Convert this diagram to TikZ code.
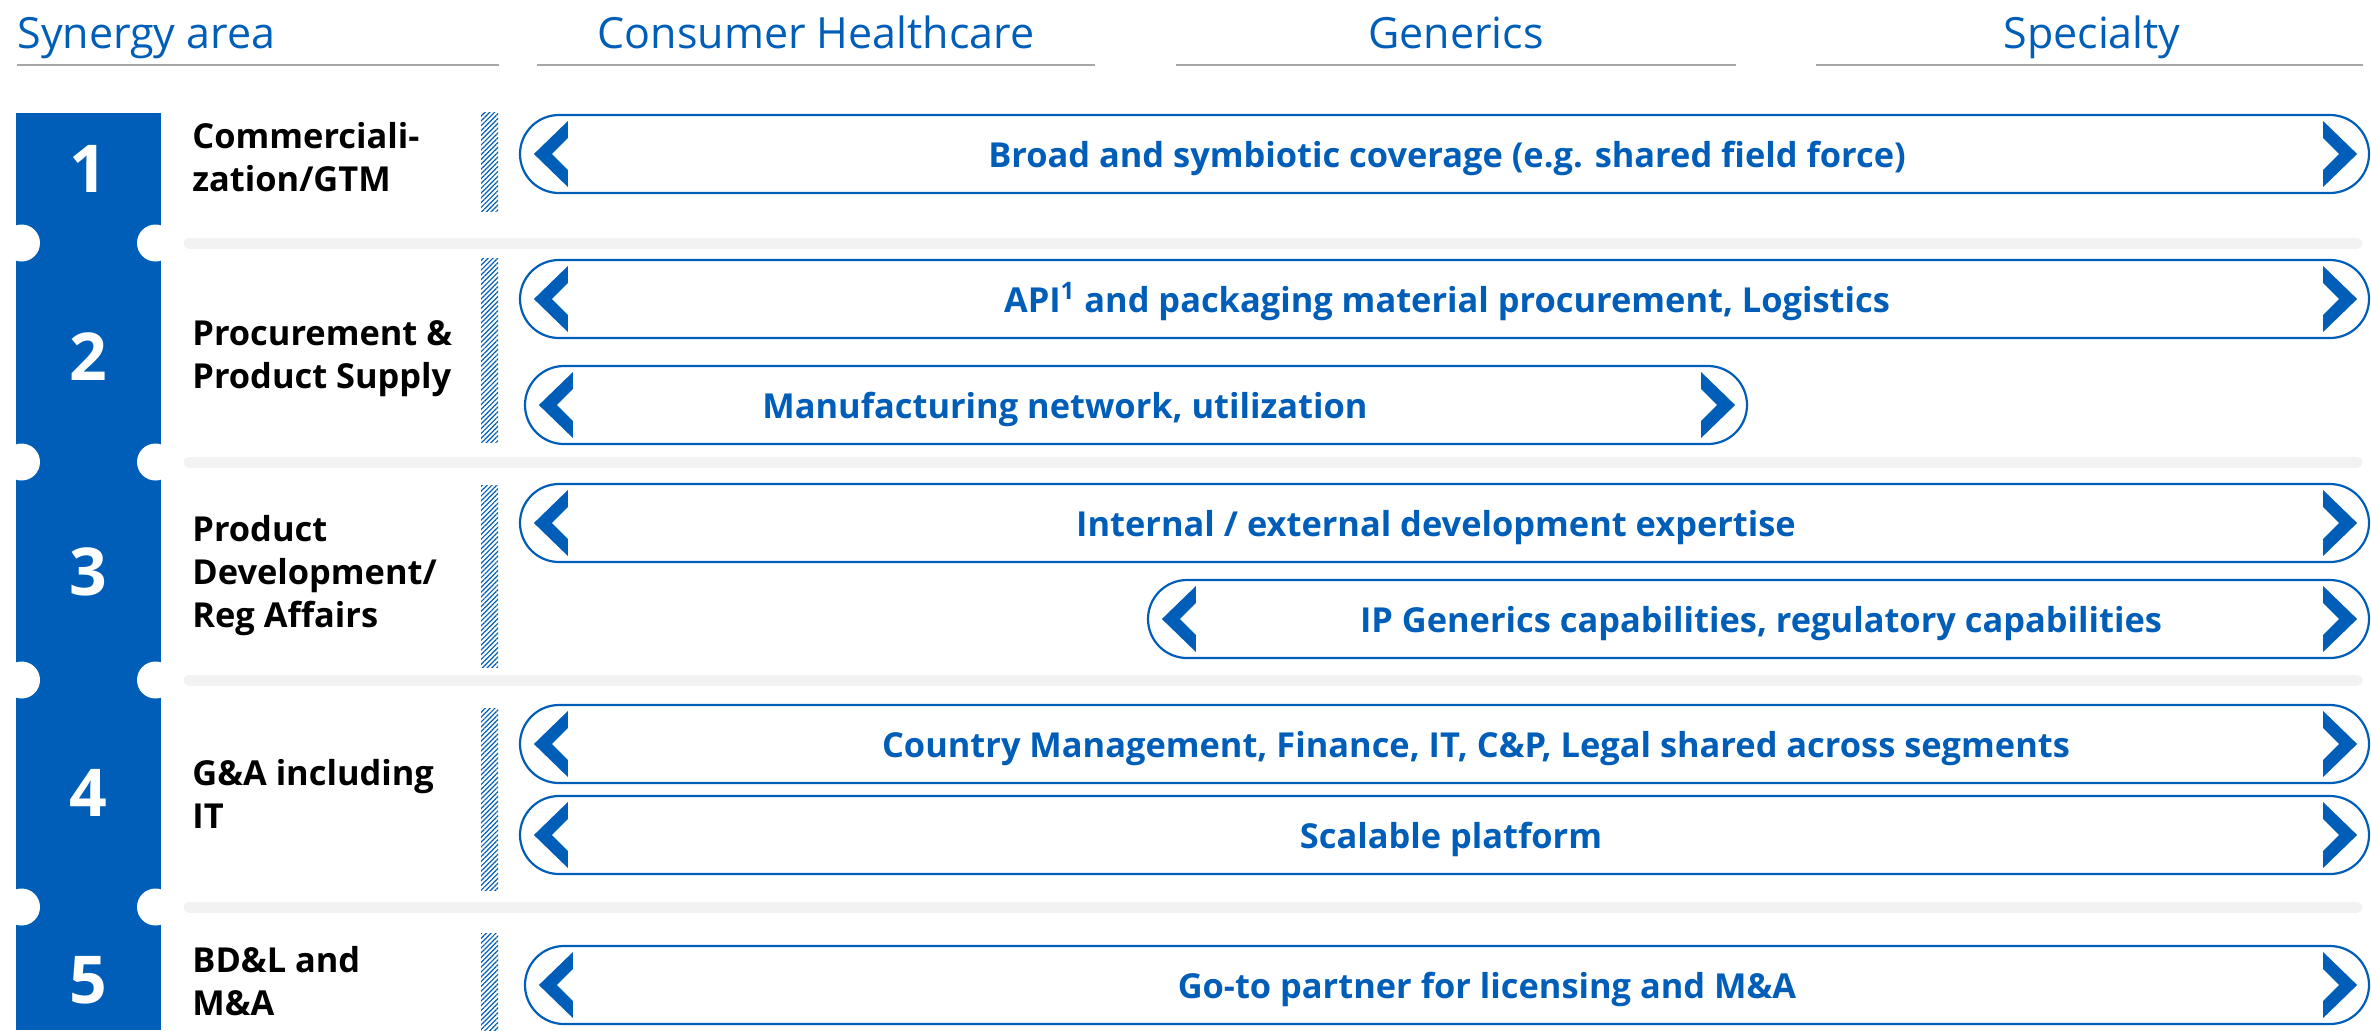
\documentclass[tikz,border=0pt]{standalone}
\usepackage{fontspec}
\setmainfont{Open Sans}
\usetikzlibrary{calc, patterns.meta}
\definecolor{stadablue}{RGB}{0, 94, 184}
\definecolor{rulegray}{RGB}{166, 166, 166}
\definecolor{sepgray}{RGB}{242, 242, 242}
% chevrons at the two ends of a pill
\newcommand{\chevleft}[1]{\fill[stadablue] ($(#1.west)+(15,0)$) -- ++(34,-33) -- ++(0,17)
  -- ++(-16,16) -- ++(16,16) -- ++(0,17) -- cycle;}
\newcommand{\chevright}[1]{\fill[stadablue] ($(#1.east)+(-13,0)$) -- ++(-34,-33) -- ++(0,17)
  -- ++(16,16) -- ++(-16,16) -- ++(0,17) -- cycle;}

\begin{document}
\begin{tikzpicture}[x=0.5pt, y=-0.5pt,
  colhead/.style={font=\fontsize{21.5}{26}\selectfont, text=stadablue,
                  inner sep=0pt, anchor=base},
  area/.style={font=\bfseries\fontsize{17.2}{21.3}\selectfont, align=left,
               anchor=base west, inner sep=0pt},
  num/.style={font=\bfseries\fontsize{33}{40}\selectfont, text=white, inner sep=0pt},
  pill/.style={draw=stadablue, line width=1.1pt, rounded corners=19.5pt,
               minimum height=39pt, inner sep=0pt},
  pilltext/.style={font=\bfseries\fontsize{17.2}{21}\selectfont, text=stadablue,
                   anchor=base, inner sep=0pt},
  hatch/.style={pattern={Lines[angle=45, distance=1.7pt, line width=0.6pt]},
                pattern color=stadablue},
  sep/.style={sepgray, line width=5.5pt, line cap=round}
]
  \useasboundingbox (0,0) rectangle (2371,1030);

  % column heads
  \node[colhead, anchor=base west] (hsyn)  at (17,48)   {Synergy area};
  \node[colhead]                   (hcons) at (816,48)  {Consumer Healthcare};
  \node[colhead]                   (hgen)  at (1456,48) {Generics};
  \node[colhead]                   (hspec) at (2092,48) {Specialty};
  \draw[rulegray, line width=1pt] (17,65)   -- (499,65);
  \draw[rulegray, line width=1pt] (537,65)  -- (1095,65);
  \draw[rulegray, line width=1pt] (1176,65) -- (1736,65);
  \draw[rulegray, line width=1pt] (1816,65) -- (2363,65);

  % numbered strip with notches
  \fill[stadablue] (16,113) rectangle (161,1030);
  \foreach \y in {243, 462, 680, 907} {
    \fill[white] (21.5,\y) circle[radius=18.5];
    \fill[white] (155.5,\y) circle[radius=18.5];
    \draw[sep] (189,\y) -- (2357,\y);
  }
  \node[num] (n1) at (88,169) {1};
  \node[num] (n2) at (88,357) {2};
  \node[num] (n3) at (88,572) {3};
  \node[num] (n4) at (88,793) {4};
  \node[num] (n5) at (88,980) {5};

  % synergy areas (base = last line)
  \node[area] (a1) at (192,191)  {Commerciali-\\zation/GTM};
  \node[area] (a2) at (192,388)  {Procurement \&\\Product Supply};
  \node[area] (a3) at (192,627)  {Product\\Development/\\Reg Affairs};
  \node[area] (a4) at (192,828)  {G\&A including\\IT};
  \node[area] (a5) at (192,1015) {BD\&L and\\M\&A};

  % hatched dividers
  \fill[hatch] (481,112) rectangle (498,211);
  \fill[hatch] (481,258) rectangle (498,442);
  \fill[hatch] (481,485) rectangle (498,667);
  \fill[hatch] (481,708) rectangle (498,890);
  \fill[hatch] (481,933) rectangle (498,1030);

  % pills
  \node[pill, minimum width=924.5pt] (p1)  at (1444.5,154) {};
  \node[pill, minimum width=924.5pt] (p2a) at (1444.5,299) {};
  \node[pill, minimum width=611pt]   (p2b) at (1136,405)   {};
  \node[pill, minimum width=924.5pt] (p3a) at (1444.5,523) {};
  \node[pill, minimum width=610.5pt] (p3b) at (1758.5,619) {};
  \node[pill, minimum width=924.5pt] (p4a) at (1444.5,744) {};
  \node[pill, minimum width=924.5pt] (p4b) at (1444.5,835) {};
  \node[pill, minimum width=922pt]   (p5)  at (1447,985)   {};

  \chevleft{p1}  \chevright{p1}
  \chevleft{p2a} \chevright{p2a}
  \chevleft{p2b} \chevright{p2b}
  \chevleft{p3a} \chevright{p3a}
  \chevleft{p3b} \chevright{p3b}
  \chevleft{p4a} \chevright{p4a}
  \chevleft{p4b} \chevright{p4b}
  \chevleft{p5}  \chevright{p5}

  \node[pilltext] (t1)  at (1447,167) {Broad and symbiotic coverage (e.g. shared field force)};
  \node[pilltext] (t2a) at (1447,312) {API\textsuperscript{1} and packaging material procurement, Logistics};
  \node[pilltext] (t2b) at (1065,418) {Manufacturing network, utilization};
  \node[pilltext] (t3a) at (1436,536) {Internal / external development expertise};
  \node[pilltext] (t3b) at (1761,632) {IP Generics capabilities, regulatory capabilities};
  \node[pilltext] (t4a) at (1476,757) {Country Management, Finance, IT, C\&P, Legal shared across segments};
  \node[pilltext] (t4b) at (1451,848) {Scalable platform};
  \node[pilltext] (t5)  at (1487,998) {Go-to partner for licensing and M\&A};
\end{tikzpicture}
\end{document}
